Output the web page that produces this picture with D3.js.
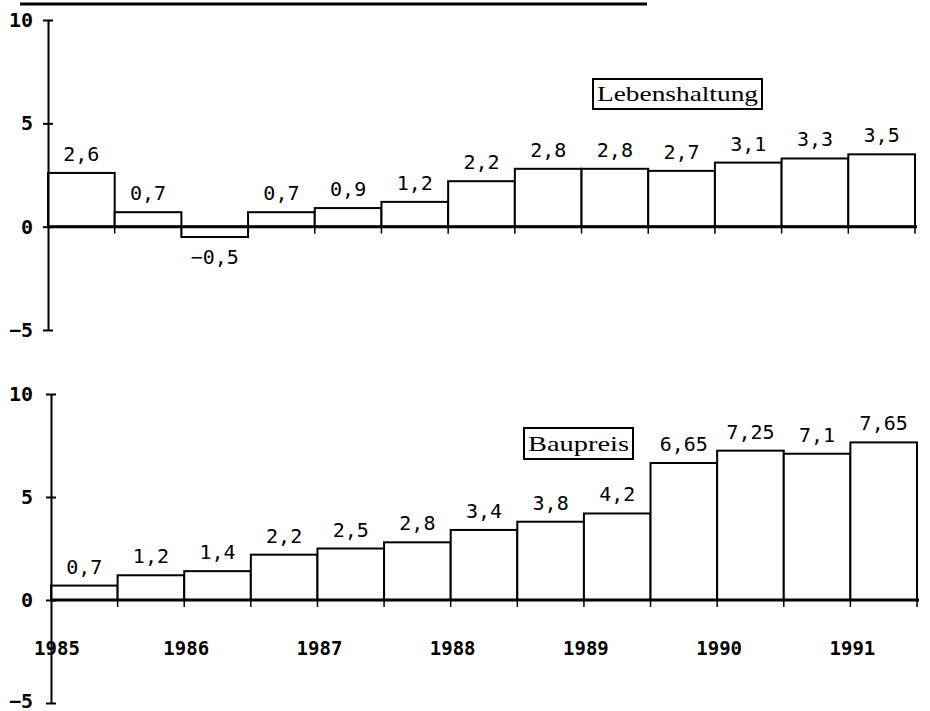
<!DOCTYPE html>
<html>
<head>
<meta charset="utf-8">
<script src="https://cdn.jsdelivr.net/npm/d3@7"></script>
<style>
  body { margin: 0; background: #fff; }
  svg { display: block; }
</style>
</head>
<body>
<div id="container"></div>
<script>

// data
var periods = ["1985-1", "1985-2", "1986-1", "1986-2", "1987-1", "1987-2", "1988-1",
               "1988-2", "1989-1", "1989-2", "1990-1", "1990-2", "1991-1"];
var years = [1985, 1986, 1987, 1988, 1989, 1990, 1991];
var lebenshaltung = [2.6, 0.7, -0.5, 0.7, 0.9, 1.2, 2.2, 2.8, 2.8, 2.7, 3.1, 3.3, 3.5];
var baupreis = [0.7, 1.2, 1.4, 2.2, 2.5, 2.8, 3.4, 3.8, 4.2, 6.65, 7.25, 7.1, 7.65];
var yTicks = [10, 5, 0, -5];

var width = 930,
    height = 711,
    monoFont = "'DejaVu Sans Mono', monospace",
    serifFont = "'Liberation Serif', 'DejaVu Serif', serif";

var svg = d3.select("#container")
    .append("svg")
    .attr("width", width)
    .attr("height", height);

// scan border line at the top
svg.append("line")
    .attr("x1", 20).attr("x2", 647)
    .attr("y1", 4).attr("y2", 4)
    .attr("stroke", "black")
    .attr("stroke-width", 3);

// 2.6 -> "2,6", -0.5 -> "−0,5"
function fmt(v) { return (v < 0 ? "\u2212" : "") + String(Math.abs(v)).replace(".", ","); }

function drawPanel(values, left, right, top, bottom, legend, showYears) {
    var g = svg.append("g");

    var x = d3.scaleBand().domain(periods).range([left, right]).padding(0);
    var y = d3.scaleLinear().domain([-5, 10]).range([bottom, top]);

    // bars
    g.selectAll("rect.bar")
        .data(values)
        .enter()
        .append("rect")
        .attr("class", "bar")
        .attr("x", function (d, i) { return x(periods[i]); })
        .attr("y", function (d) { return y(Math.max(0, d)); })
        .attr("width", x.bandwidth())
        .attr("height", function (d) { return Math.abs(y(d) - y(0)); })
        .attr("fill", "white")
        .attr("stroke", "black")
        .attr("stroke-width", 2);

    // zero line
    g.append("line")
        .attr("x1", left).attr("x2", right + 2)
        .attr("y1", y(0)).attr("y2", y(0))
        .attr("stroke", "black")
        .attr("stroke-width", 3);

    // ticks at bar boundaries
    g.selectAll("line.btick")
        .data(periods)
        .enter()
        .append("line")
        .attr("class", "btick")
        .attr("x1", function (d) { return x(d) + x.bandwidth(); })
        .attr("x2", function (d) { return x(d) + x.bandwidth(); })
        .attr("y1", y(0))
        .attr("y2", y(0) + 7)
        .attr("stroke", "black")
        .attr("stroke-width", 1.5);

    // value labels
    g.selectAll("text.val")
        .data(values)
        .enter()
        .append("text")
        .attr("class", "val")
        .attr("x", function (d, i) { return x(periods[i]) + x.bandwidth() / 2; })
        .attr("y", function (d) { return d >= 0 ? y(d) - 12 : y(d) + 27; })
        .attr("text-anchor", "middle")
        .style("font-family", monoFont)
        .style("font-size", "20px")
        .text(function (d) { return fmt(d); });

    // y axis
    var axis = g.append("g")
        .attr("transform", "translate(" + left + ",0)")
        .call(d3.axisLeft(y).tickValues(yTicks).tickSizeOuter(0).tickSizeInner(5).tickPadding(14));

    axis.select(".domain").attr("stroke-width", 2);
    axis.selectAll(".tick line")
        .attr("x1", -5).attr("x2", 5)
        .attr("stroke-width", 2);
    axis.selectAll(".tick text")
        .attr("x", 33 - left)
        .attr("dy", function (d) { return y(d) > height - 12 ? "0.2em" : "0.32em"; })
        .style("font-family", monoFont)
        .style("font-size", "20px")
        .style("font-weight", "bold")
        .attr("fill", "black")
        .text(function (d) { return d < 0 ? "\u2212" + Math.abs(d) : d; });

    // year labels
    if (showYears) {
        g.selectAll("text.year")
            .data(years)
            .enter()
            .append("text")
            .attr("class", "year")
            .attr("x", function (d) { return x(d + "-1") + (d == 1985 ? 6 : 2); })
            .attr("y", y(0) + 55)
            .attr("text-anchor", "middle")
            .style("font-family", monoFont)
            .style("font-size", "19px")
            .style("font-weight", "bold")
            .text(function (d) { return d; });
    }

    // legend box
    g.append("rect")
        .attr("x", legend.x).attr("y", legend.y)
        .attr("width", legend.w).attr("height", legend.h)
        .attr("fill", "white")
        .attr("stroke", "black")
        .attr("stroke-width", 2);

    g.append("text")
        .attr("x", legend.x + 4)
        .attr("y", legend.y + legend.h - 8)
        .attr("textLength", legend.w - 8)
        .attr("lengthAdjust", "spacingAndGlyphs")
        .style("font-family", serifFont)
        .style("font-size", "21px")
        .text(legend.label);
}

drawPanel(lebenshaltung, 48, 915, 20, 330,
    { label: "Lebenshaltung", x: 593, y: 79, w: 169, h: 30 }, false);

drawPanel(baupreis, 51, 917, 394, 703,
    { label: "Baupreis", x: 524, y: 428, w: 109, h: 31 }, true);

</script>
</body>
</html>
